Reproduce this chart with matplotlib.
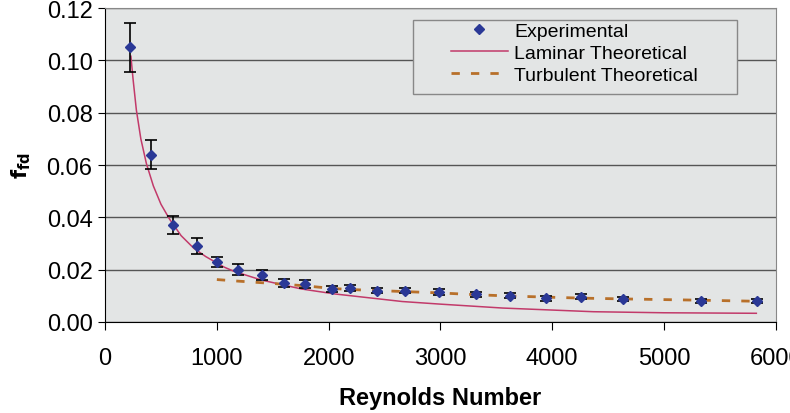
import matplotlib.pyplot as plt
import numpy as np
from matplotlib.patches import Rectangle

plt.rcParams['font.family'] = ['Liberation Sans', 'DejaVu Sans']

# dane
re_exp = [225, 415, 605, 820, 1000, 1190, 1400, 1600, 1790, 2030, 2190,
          2430, 2680, 2990, 3320, 3620, 3940, 4260, 4630, 5330, 5830]
f_exp = [0.105, 0.064, 0.037, 0.029, 0.023, 0.020, 0.018, 0.015, 0.0145,
         0.0125, 0.013, 0.012, 0.012, 0.0115, 0.0105, 0.0100, 0.0090,
         0.0097, 0.0088, 0.0080, 0.0079]
f_err = [0.0093, 0.0055, 0.0035, 0.003, 0.002, 0.002, 0.0018, 0.0015,
         0.0014, 0.0012, 0.0012, 0.0011, 0.0011, 0.0011, 0.001, 0.001,
         0.0009, 0.0009, 0.0009, 0.0008, 0.0008]

re_lam = [231, 250, 280, 320, 370, 432, 500, 577, 680, 793, 900, 1063,
          1156, 1400, 1757, 2054, 2658, 3000, 3559, 4369, 5000, 5826]
f_lam = [0.1016, 0.093, 0.081, 0.070, 0.0605, 0.052, 0.045, 0.0393, 0.0330,
         0.0282, 0.0250, 0.0210, 0.0193, 0.0160, 0.0126, 0.0107, 0.0078,
         0.0068, 0.0053, 0.0039, 0.0035, 0.0033]

re_turb = re_exp[4:]
f_turb = [0.0162, 0.0156, 0.015, 0.0144, 0.0138, 0.0128, 0.0124, 0.012,
          0.0116, 0.0111, 0.0104, 0.0099, 0.0095, 0.0091, 0.0088, 0.0083,
          0.0079]

fig = plt.figure(figsize=(7.9, 4.14), dpi=100)
ax = fig.add_axes([0.133, 0.22, 0.849, 0.758])
ax.set_facecolor('#e3e5e5')

ax.errorbar(re_exp, f_exp, yerr=f_err, fmt='none', ecolor='black',
            elinewidth=1.2, capsize=4.5, capthick=1.2, zorder=3)
ax.plot(re_exp, f_exp, 'D', color='#2a3896', markersize=5, zorder=4,
        label='Experimental')
ax.plot(re_lam, f_lam, '-', color='#c23a6a', linewidth=1.1, zorder=2,
        label='Laminar Theoretical')
ax.plot(re_turb, f_turb, '--', color='#b8702a', linewidth=2,
        dashes=(3, 4), zorder=2, label='Turbulent Theoretical')

ax.set_xlim(0, 6000)
ax.set_ylim(0, 0.12)
ax.set_xticks(np.arange(0, 6001, 1000))
ax.set_yticks(np.arange(0, 0.121, 0.02))
ax.set_yticklabels(['%.2f' % v for v in np.arange(0, 0.121, 0.02)])
ax.yaxis.grid(True, color='#555555', linewidth=1)
ax.set_axisbelow(True)

for s in ['top', 'right']:
    ax.spines[s].set_color('#888888')
for s in ['left', 'bottom']:
    ax.spines[s].set_color('black')

ax.tick_params(axis='y', labelsize=17, length=5, pad=4)
ax.tick_params(axis='x', labelsize=17, length=6, pad=12)

ax.set_xlabel('Reynolds Number', fontsize=17, fontweight='bold', labelpad=12)
ax.set_ylabel(r'$\mathbf{f_{fd}}$', fontsize=15, labelpad=10)

# ramka legendy
ax.add_patch(Rectangle((0.459, 0.726), 0.483, 0.236, transform=ax.transAxes,
                       facecolor='#e3e5e5', edgecolor='#888888',
                       linewidth=1, zorder=5))
leg = ax.legend(loc='upper left', bbox_to_anchor=(0.516, 0.955),
                fontsize=14, frameon=False, borderpad=0, borderaxespad=0,
                handlelength=2.9, handletextpad=0.35, labelspacing=0.22)
leg.set_zorder(6)

fig.savefig('out.png', dpi=100)
